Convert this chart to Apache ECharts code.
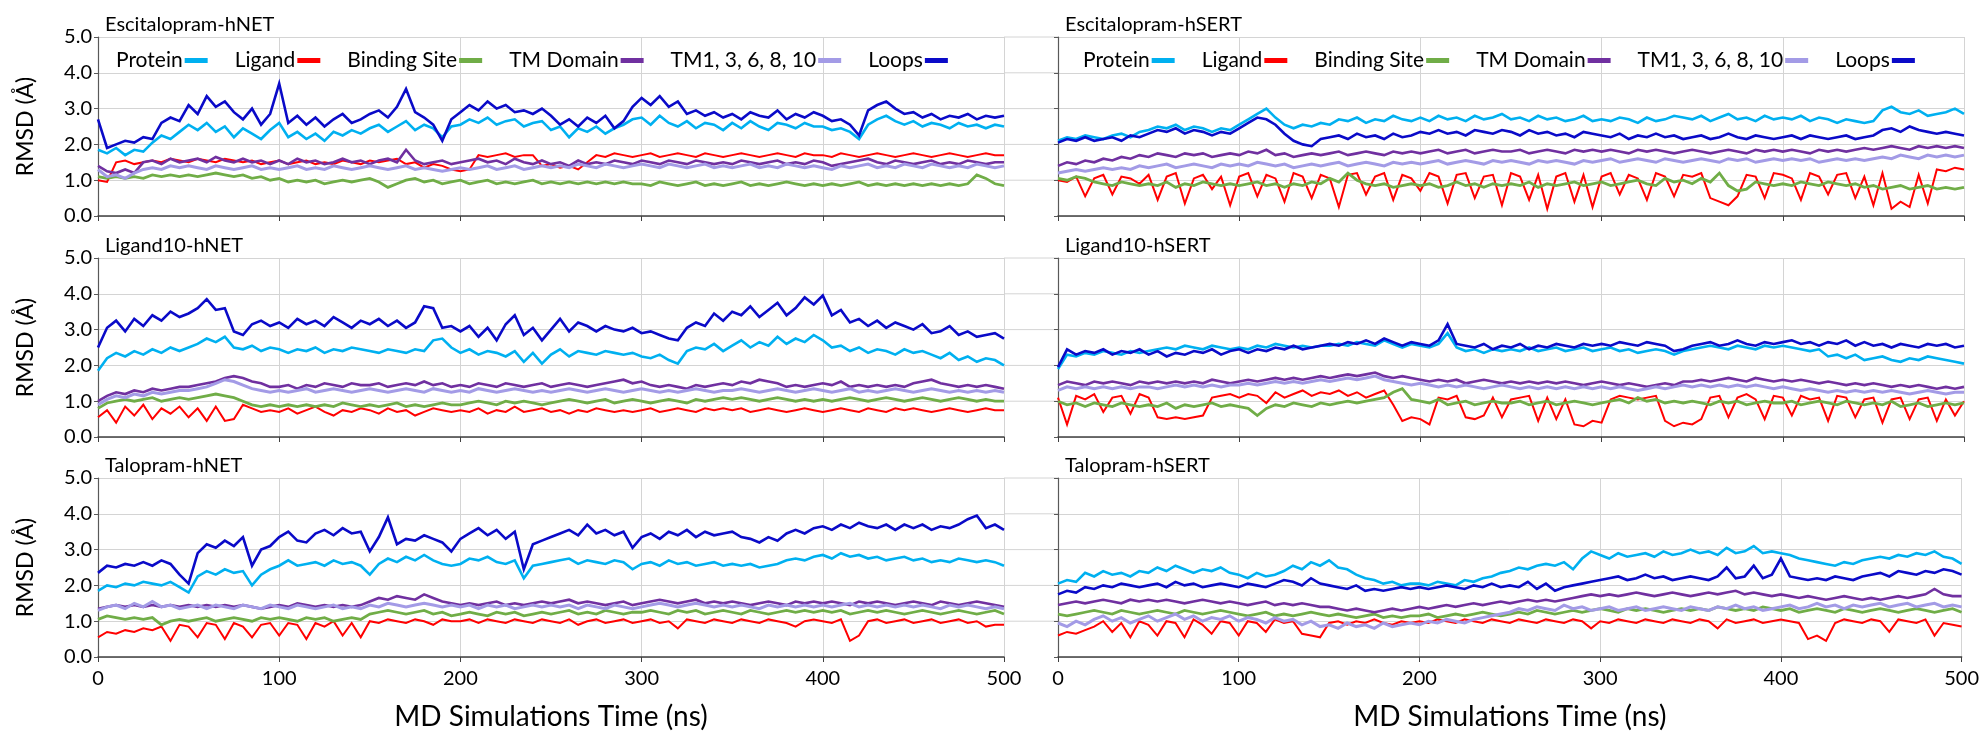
<!DOCTYPE html>
<html>
<head>
<meta charset="utf-8">
<script src="https://cdn.jsdelivr.net/npm/echarts@6/dist/echarts.min.js"></script>
<style>
  html, body { margin: 0; padding: 0; background: #fff; }
  #chart { width: 1982px; height: 734px; }
</style>
</head>
<body>
<div id="chart"></div>
<script>
// time grid (ns), one sample every 5 ns
const TIME_NS = [0,5,10,15,20,25,30,35,40,45,50,55,60,65,70,75,80,85,90,95,
  100,105,110,115,120,125,130,135,140,145,150,155,160,165,170,175,180,185,190,195,
  200,205,210,215,220,225,230,235,240,245,250,255,260,265,270,275,280,285,290,295,
  300,305,310,315,320,325,330,335,340,345,350,355,360,365,370,375,380,385,390,395,
  400,405,410,415,420,425,430,435,440,445,450,455,460,465,470,475,480,485,490,495,500];

const SERIES_NAMES = ['Protein', 'Ligand', 'Binding Site', 'TM Domain', 'TM1, 3, 6, 8, 10', 'Loops'];
const PANEL_TITLES = ['Escitalopram-hNET', 'Escitalopram-hSERT', 'Ligand10-hNET', 'Ligand10-hSERT', 'Talopram-hNET', 'Talopram-hSERT'];
const X_TICKS = [0, 100, 200, 300, 400, 500];
const Y_TICKS = [0, 1, 2, 3, 4, 5];

// ---- Escitalopram-hNET ----
const ESC_NET_PROTEIN = [1.85,1.75,1.90,1.70,1.85,1.80,2.05,2.25,2.15,2.35,
  2.55,2.40,2.60,2.35,2.50,2.20,2.45,2.30,2.15,2.40,
  2.60,2.20,2.35,2.15,2.30,2.10,2.35,2.25,2.40,2.30,
  2.45,2.55,2.35,2.50,2.65,2.40,2.55,2.45,2.20,2.50,
  2.55,2.70,2.60,2.75,2.55,2.65,2.70,2.50,2.60,2.65,
  2.40,2.50,2.20,2.45,2.35,2.50,2.30,2.45,2.55,2.70,
  2.75,2.55,2.80,2.60,2.50,2.65,2.45,2.60,2.55,2.40,
  2.60,2.45,2.65,2.50,2.40,2.60,2.55,2.45,2.60,2.50,
  2.50,2.40,2.45,2.35,2.15,2.55,2.70,2.80,2.65,2.55,
  2.65,2.50,2.60,2.55,2.45,2.60,2.50,2.55,2.45,2.55,2.50];
const ESC_NET_LIGAND = [1.00,0.95,1.50,1.55,1.45,1.50,1.55,1.50,1.60,1.55,
  1.50,1.60,1.55,1.50,1.60,1.55,1.50,1.55,1.45,1.50,
  1.55,1.45,1.50,1.55,1.45,1.50,1.45,1.55,1.50,1.45,
  1.55,1.50,1.55,1.60,1.45,1.50,1.35,1.45,1.40,1.30,
  1.25,1.30,1.70,1.65,1.70,1.75,1.65,1.70,1.70,1.40,
  1.45,1.35,1.40,1.30,1.50,1.70,1.65,1.75,1.70,1.65,
  1.70,1.75,1.65,1.70,1.75,1.70,1.65,1.75,1.70,1.65,
  1.70,1.75,1.70,1.65,1.70,1.75,1.70,1.65,1.75,1.70,
  1.70,1.65,1.75,1.70,1.65,1.70,1.75,1.70,1.65,1.70,
  1.75,1.70,1.65,1.70,1.75,1.70,1.65,1.70,1.75,1.70,1.70];
const ESC_NET_SITE = [1.10,1.05,1.10,1.05,1.10,1.05,1.15,1.10,1.15,1.10,
  1.15,1.10,1.15,1.20,1.15,1.10,1.15,1.05,1.10,1.00,
  1.05,0.95,1.00,0.95,1.00,0.90,0.95,1.00,0.95,1.00,
  1.05,0.95,0.80,0.90,1.00,1.05,0.95,1.00,0.90,0.95,
  1.00,0.90,0.95,1.00,0.90,0.95,0.90,0.95,1.00,0.90,
  0.95,0.90,0.95,0.90,0.95,0.90,0.95,0.90,0.95,0.90,
  0.90,0.85,0.95,0.90,0.85,0.90,0.95,0.85,0.90,0.85,
  0.90,0.95,0.85,0.90,0.85,0.90,0.95,0.90,0.85,0.90,
  0.85,0.90,0.85,0.90,0.95,0.85,0.90,0.85,0.90,0.85,
  0.90,0.85,0.90,0.85,0.90,0.85,0.90,1.15,1.05,0.90,0.85];
const ESC_NET_TMD = [1.40,1.25,1.20,1.30,1.20,1.50,1.55,1.45,1.60,1.50,
  1.55,1.60,1.50,1.65,1.55,1.50,1.60,1.50,1.55,1.45,
  1.55,1.45,1.60,1.50,1.55,1.45,1.50,1.60,1.50,1.55,
  1.45,1.55,1.60,1.50,1.85,1.55,1.45,1.50,1.55,1.45,
  1.50,1.55,1.60,1.50,1.55,1.45,1.60,1.50,1.45,1.55,
  1.45,1.50,1.40,1.55,1.45,1.50,1.45,1.55,1.50,1.45,
  1.55,1.50,1.45,1.55,1.50,1.45,1.55,1.50,1.45,1.50,
  1.45,1.55,1.50,1.45,1.50,1.55,1.45,1.50,1.45,1.55,
  1.50,1.40,1.45,1.50,1.55,1.60,1.50,1.45,1.55,1.50,
  1.45,1.50,1.55,1.45,1.50,1.45,1.55,1.50,1.45,1.50,1.50];
const ESC_NET_TM1 = [1.30,1.10,1.15,1.05,1.20,1.30,1.35,1.30,1.40,1.35,
  1.40,1.35,1.30,1.40,1.35,1.30,1.35,1.40,1.30,1.35,
  1.30,1.35,1.40,1.30,1.35,1.30,1.40,1.35,1.30,1.35,
  1.40,1.35,1.30,1.35,1.40,1.30,1.35,1.30,1.25,1.30,
  1.35,1.30,1.35,1.40,1.30,1.35,1.40,1.30,1.35,1.40,
  1.35,1.40,1.35,1.45,1.40,1.35,1.45,1.40,1.35,1.40,
  1.45,1.40,1.35,1.45,1.40,1.35,1.40,1.45,1.35,1.40,
  1.35,1.40,1.45,1.35,1.40,1.35,1.45,1.40,1.35,1.40,
  1.35,1.30,1.40,1.35,1.40,1.45,1.35,1.40,1.35,1.45,
  1.40,1.35,1.45,1.40,1.35,1.40,1.35,1.45,1.40,1.35,1.40];
const ESC_NET_LOOPS = [2.70,1.90,2.00,2.10,2.05,2.20,2.15,2.60,2.75,2.65,
  3.10,2.85,3.35,3.05,3.20,2.90,2.70,3.00,2.55,2.85,
  3.70,2.60,2.80,2.55,2.75,2.50,2.70,2.85,2.60,2.70,
  2.85,2.95,2.75,3.05,3.55,2.90,2.75,2.55,2.10,2.70,
  2.90,3.10,2.95,3.20,3.00,3.10,2.90,2.95,2.85,3.00,
  2.80,2.55,2.70,2.50,2.75,2.60,2.80,2.45,2.65,3.05,
  3.30,3.10,3.35,3.05,3.20,2.85,2.95,2.80,2.90,2.75,
  2.85,2.70,2.90,2.80,2.75,2.95,2.70,2.85,2.75,2.90,
  2.80,2.65,2.70,2.55,2.25,2.95,3.10,3.20,3.00,2.85,
  2.90,2.75,2.85,2.70,2.80,2.75,2.85,2.70,2.80,2.75,2.80];

// ---- Escitalopram-hSERT ----
const ESC_SERT_PROTEIN = [2.10,2.20,2.15,2.25,2.20,2.15,2.25,2.30,2.20,2.35,
  2.40,2.50,2.45,2.55,2.40,2.50,2.45,2.35,2.45,2.40,
  2.55,2.70,2.85,3.00,2.75,2.55,2.45,2.55,2.50,2.60,
  2.55,2.70,2.65,2.75,2.60,2.70,2.65,2.80,2.70,2.65,
  2.75,2.65,2.80,2.70,2.75,2.65,2.80,2.70,2.75,2.85,
  2.70,2.75,2.65,2.80,2.70,2.75,2.65,2.70,2.80,2.65,
  2.70,2.65,2.75,2.70,2.60,2.75,2.65,2.70,2.80,2.75,
  2.70,2.80,2.65,2.75,2.85,2.70,2.75,2.65,2.80,2.70,
  2.75,2.70,2.80,2.65,2.75,2.70,2.60,2.70,2.65,2.60,
  2.65,2.95,3.05,2.90,2.85,2.95,2.80,2.85,2.90,3.00,2.85];
const ESC_SERT_LIGAND = [1.00,0.95,1.10,0.55,1.05,1.15,0.60,1.10,1.05,0.90,
  1.15,0.45,1.10,1.20,0.35,1.05,1.15,0.75,1.10,0.30,
  1.10,1.20,0.55,1.15,1.05,0.40,1.20,1.10,0.50,1.15,
  1.05,0.25,1.15,1.20,0.60,1.10,1.20,0.45,1.15,1.05,
  0.70,1.20,1.10,0.35,1.15,1.20,0.50,1.10,1.15,0.30,
  1.20,1.10,0.45,1.15,0.20,1.10,1.20,0.40,1.15,0.25,
  1.10,1.20,0.60,1.15,1.05,0.45,1.20,1.10,0.55,1.15,
  1.10,1.20,0.50,0.40,0.30,0.55,1.15,1.10,0.50,1.20,
  1.15,1.05,0.45,1.20,1.10,0.60,1.15,1.20,0.50,1.10,
  0.30,1.20,0.20,0.40,0.25,1.15,0.35,1.30,1.25,1.35,1.30];
const ESC_SERT_SITE = [1.05,1.00,1.10,1.05,0.95,0.90,0.85,0.95,0.90,0.85,
  0.90,0.85,0.95,0.80,0.90,0.85,0.95,0.90,0.85,0.90,
  0.85,0.90,0.95,0.85,0.90,0.80,0.90,0.85,0.95,0.90,
  1.05,0.95,1.20,1.00,0.90,0.85,0.90,0.80,0.85,0.90,
  0.85,0.90,0.80,0.85,0.95,0.85,0.90,0.80,0.90,0.85,
  0.90,0.85,0.95,0.80,0.90,0.85,0.90,0.95,0.85,0.90,
  0.95,0.85,0.90,0.95,1.00,0.90,0.85,1.05,0.95,1.00,
  0.90,1.05,0.95,1.20,0.85,0.70,0.75,0.95,0.90,0.85,
  0.90,0.85,0.95,0.90,0.85,0.95,0.90,0.85,0.90,0.80,
  0.85,0.75,0.80,0.85,0.75,0.80,0.85,0.75,0.80,0.75,0.80];
const ESC_SERT_TMD = [1.40,1.50,1.45,1.55,1.50,1.60,1.55,1.65,1.60,1.70,
  1.65,1.75,1.70,1.65,1.75,1.70,1.75,1.65,1.70,1.75,
  1.70,1.80,1.75,1.85,1.70,1.75,1.65,1.70,1.75,1.70,
  1.75,1.80,1.70,1.75,1.80,1.75,1.70,1.80,1.75,1.80,
  1.75,1.80,1.85,1.75,1.80,1.85,1.75,1.80,1.85,1.80,
  1.80,1.85,1.75,1.80,1.85,1.80,1.75,1.85,1.80,1.85,
  1.80,1.85,1.80,1.75,1.85,1.80,1.85,1.80,1.75,1.80,
  1.85,1.80,1.75,1.80,1.85,1.80,1.75,1.85,1.80,1.85,
  1.80,1.85,1.80,1.75,1.85,1.80,1.85,1.80,1.85,1.90,
  1.85,1.90,1.95,1.90,1.85,1.95,1.90,1.95,1.90,1.95,1.90];
const ESC_SERT_TM1 = [1.20,1.25,1.30,1.25,1.30,1.35,1.30,1.35,1.30,1.40,
  1.35,1.40,1.45,1.35,1.40,1.45,1.40,1.35,1.45,1.40,
  1.45,1.40,1.50,1.45,1.40,1.45,1.35,1.40,1.45,1.40,
  1.45,1.50,1.40,1.45,1.50,1.45,1.40,1.50,1.45,1.50,
  1.45,1.50,1.55,1.45,1.50,1.55,1.50,1.45,1.55,1.50,
  1.55,1.50,1.45,1.55,1.50,1.55,1.50,1.45,1.55,1.50,
  1.55,1.60,1.50,1.55,1.60,1.55,1.50,1.60,1.55,1.50,
  1.55,1.60,1.55,1.50,1.60,1.55,1.60,1.50,1.55,1.60,
  1.55,1.60,1.55,1.60,1.50,1.55,1.60,1.55,1.60,1.55,
  1.60,1.65,1.60,1.70,1.65,1.60,1.70,1.65,1.70,1.65,1.70];
const ESC_SERT_LOOPS = [2.05,2.15,2.10,2.20,2.10,2.15,2.20,2.10,2.25,2.20,
  2.30,2.40,2.35,2.45,2.30,2.40,2.35,2.25,2.35,2.30,
  2.45,2.60,2.75,2.70,2.55,2.30,2.10,2.00,1.95,2.15,
  2.20,2.25,2.15,2.30,2.20,2.25,2.15,2.30,2.20,2.25,
  2.35,2.30,2.40,2.30,2.35,2.25,2.40,2.35,2.30,2.40,
  2.35,2.25,2.40,2.30,2.35,2.25,2.30,2.20,2.35,2.30,
  2.25,2.20,2.30,2.15,2.25,2.20,2.30,2.20,2.25,2.15,
  2.20,2.25,2.15,2.20,2.30,2.20,2.15,2.25,2.20,2.15,
  2.20,2.25,2.15,2.25,2.20,2.15,2.20,2.25,2.15,2.20,
  2.25,2.40,2.45,2.35,2.50,2.40,2.35,2.30,2.35,2.30,2.25];

// ---- Ligand10-hNET ----
const L10_NET_PROTEIN = [1.85,2.20,2.35,2.25,2.40,2.30,2.45,2.35,2.50,2.40,
  2.50,2.60,2.75,2.65,2.80,2.50,2.45,2.55,2.40,2.50,
  2.45,2.35,2.45,2.40,2.50,2.35,2.45,2.40,2.50,2.45,
  2.40,2.35,2.45,2.40,2.35,2.45,2.40,2.70,2.75,2.50,
  2.35,2.45,2.30,2.40,2.35,2.25,2.40,2.10,2.35,2.05,
  2.30,2.45,2.25,2.40,2.35,2.30,2.40,2.35,2.30,2.35,
  2.25,2.20,2.30,2.15,2.05,2.40,2.50,2.45,2.60,2.40,
  2.55,2.70,2.50,2.65,2.55,2.80,2.60,2.75,2.65,2.85,
  2.70,2.50,2.55,2.40,2.50,2.35,2.45,2.40,2.30,2.45,
  2.35,2.40,2.30,2.20,2.35,2.15,2.25,2.10,2.20,2.15,2.00];
const L10_NET_LIGAND = [0.55,0.75,0.40,0.85,0.60,0.90,0.50,0.80,0.65,0.85,
  0.55,0.80,0.45,0.85,0.45,0.50,0.90,0.80,0.70,0.75,
  0.70,0.80,0.65,0.75,0.85,0.70,0.60,0.75,0.70,0.80,
  0.75,0.65,0.80,0.70,0.75,0.60,0.70,0.80,0.75,0.70,
  0.75,0.70,0.80,0.65,0.75,0.70,0.85,0.70,0.75,0.80,
  0.70,0.75,0.65,0.75,0.70,0.80,0.75,0.70,0.75,0.70,
  0.75,0.80,0.70,0.75,0.80,0.75,0.70,0.80,0.75,0.80,
  0.75,0.80,0.70,0.75,0.80,0.75,0.70,0.75,0.80,0.75,
  0.70,0.75,0.80,0.75,0.70,0.80,0.75,0.70,0.80,0.75,
  0.80,0.75,0.70,0.75,0.80,0.75,0.70,0.75,0.80,0.75,0.75];
const L10_NET_SITE = [0.80,0.95,1.00,1.05,1.00,1.05,1.10,1.00,1.05,1.10,
  1.05,1.10,1.15,1.20,1.15,1.10,1.00,0.90,0.85,0.90,
  0.85,0.90,0.85,0.90,0.85,0.90,0.85,0.95,0.90,0.85,
  0.90,0.85,0.90,0.95,0.85,0.90,0.85,0.90,0.95,0.90,
  0.90,0.95,1.00,0.95,0.90,1.00,0.95,1.00,0.95,0.90,
  0.95,1.00,1.05,1.00,0.95,1.00,1.05,0.95,1.00,1.05,
  1.00,0.95,1.00,1.05,1.00,0.95,1.05,1.00,1.05,1.10,
  1.05,1.10,1.05,1.00,1.05,1.10,1.05,1.00,1.05,1.00,
  1.05,1.00,1.05,1.10,1.05,1.00,1.05,1.10,1.05,1.00,
  1.05,1.10,1.05,1.00,1.05,1.10,1.05,1.00,1.05,1.00,1.00];
const L10_NET_TMD = [1.00,1.15,1.25,1.20,1.30,1.25,1.35,1.30,1.35,1.40,
  1.40,1.45,1.50,1.55,1.65,1.70,1.65,1.55,1.50,1.40,
  1.40,1.45,1.35,1.45,1.40,1.50,1.45,1.40,1.50,1.45,
  1.45,1.50,1.40,1.45,1.50,1.45,1.55,1.45,1.50,1.40,
  1.45,1.40,1.50,1.45,1.40,1.50,1.45,1.40,1.45,1.50,
  1.40,1.45,1.50,1.45,1.40,1.45,1.50,1.55,1.60,1.50,
  1.55,1.45,1.40,1.45,1.40,1.35,1.45,1.40,1.45,1.50,
  1.45,1.55,1.50,1.60,1.55,1.50,1.40,1.45,1.40,1.45,
  1.50,1.45,1.55,1.40,1.45,1.40,1.45,1.40,1.45,1.40,
  1.50,1.55,1.60,1.50,1.45,1.40,1.45,1.40,1.45,1.40,1.35];
const L10_NET_TM1 = [0.90,1.05,1.15,1.10,1.20,1.15,1.25,1.20,1.25,1.30,
  1.30,1.35,1.40,1.50,1.60,1.55,1.45,1.35,1.30,1.25,
  1.30,1.25,1.30,1.35,1.25,1.30,1.35,1.30,1.25,1.30,
  1.35,1.30,1.25,1.30,1.35,1.30,1.25,1.35,1.30,1.25,
  1.30,1.25,1.35,1.30,1.25,1.30,1.35,1.30,1.25,1.30,
  1.25,1.30,1.35,1.30,1.25,1.30,1.35,1.30,1.25,1.30,
  1.35,1.30,1.25,1.30,1.25,1.30,1.35,1.30,1.25,1.30,
  1.30,1.35,1.30,1.25,1.30,1.35,1.30,1.25,1.30,1.35,
  1.30,1.25,1.30,1.35,1.25,1.30,1.25,1.30,1.35,1.30,
  1.25,1.30,1.35,1.30,1.25,1.30,1.25,1.30,1.25,1.30,1.25];
const L10_NET_LOOPS = [2.50,3.05,3.25,2.95,3.30,3.10,3.40,3.25,3.50,3.35,
  3.45,3.60,3.85,3.55,3.60,2.95,2.85,3.15,3.25,3.10,
  3.20,3.05,3.30,3.15,3.25,3.10,3.35,3.20,3.05,3.25,
  3.15,3.30,3.10,3.25,3.05,3.20,3.65,3.60,3.05,3.10,
  2.95,3.10,2.80,3.05,2.70,3.15,3.40,2.85,3.05,2.70,
  3.00,3.30,2.95,3.20,3.10,2.95,3.10,3.00,2.95,3.05,
  2.90,2.95,2.85,2.75,2.70,3.05,3.20,3.10,3.45,3.25,
  3.50,3.40,3.65,3.35,3.55,3.75,3.40,3.60,3.90,3.70,
  3.95,3.40,3.55,3.20,3.30,3.10,3.25,3.05,3.20,3.10,
  3.00,3.15,2.90,2.95,3.10,2.85,2.95,2.80,2.85,2.90,2.75];

// ---- Ligand10-hSERT ----
const L10_SERT_PROTEIN = [1.90,2.30,2.25,2.35,2.30,2.40,2.35,2.30,2.40,2.35,
  2.40,2.45,2.50,2.45,2.55,2.50,2.45,2.55,2.50,2.45,
  2.50,2.45,2.55,2.50,2.60,2.55,2.50,2.55,2.50,2.55,
  2.55,2.60,2.55,2.65,2.60,2.55,2.70,2.60,2.50,2.60,
  2.55,2.50,2.60,2.90,2.50,2.40,2.45,2.35,2.45,2.40,
  2.45,2.40,2.50,2.40,2.45,2.50,2.40,2.45,2.50,2.40,
  2.45,2.50,2.40,2.45,2.35,2.40,2.45,2.40,2.30,2.40,
  2.45,2.50,2.55,2.50,2.45,2.55,2.50,2.45,2.55,2.50,
  2.55,2.50,2.45,2.40,2.45,2.25,2.30,2.20,2.30,2.15,
  2.20,2.25,2.15,2.10,2.20,2.15,2.25,2.20,2.15,2.10,2.05];
const L10_SERT_LIGAND = [1.10,0.35,1.15,1.05,1.20,0.70,1.10,1.15,0.65,1.20,
  1.10,0.55,0.50,0.55,0.50,0.55,0.60,1.10,1.15,1.20,
  1.10,1.20,1.15,0.95,1.25,1.10,1.20,1.30,1.15,1.25,
  1.20,1.30,1.15,1.25,1.10,1.20,1.30,0.90,0.45,0.55,
  0.50,0.35,1.10,1.05,1.15,0.55,0.50,0.60,1.10,0.55,
  1.05,1.10,1.15,0.45,1.10,0.50,1.05,0.35,0.30,0.45,
  0.40,1.05,1.15,1.10,1.05,1.10,1.15,0.45,0.30,0.40,
  0.35,0.50,1.10,1.15,0.55,1.10,1.20,1.05,0.50,1.15,
  1.10,0.60,1.15,1.05,1.10,0.45,1.15,1.10,0.55,1.05,
  1.10,0.40,1.05,1.10,0.50,1.05,1.10,0.45,1.05,0.60,1.00];
const L10_SERT_SITE = [1.00,0.90,0.95,0.85,0.95,0.90,0.85,0.95,0.90,0.85,
  0.90,0.85,0.95,0.80,0.90,0.85,0.90,0.95,0.85,0.90,
  0.85,0.80,0.60,0.80,0.90,0.85,0.95,0.90,0.85,0.95,
  0.90,0.95,1.00,0.95,1.00,1.05,1.10,1.25,1.35,1.05,
  1.00,0.95,1.05,0.90,0.95,1.00,0.90,0.95,1.00,0.95,
  0.95,1.00,0.90,0.95,1.00,0.90,0.95,1.00,0.95,0.90,
  0.95,1.00,1.05,0.95,1.10,1.00,1.05,0.95,1.00,0.95,
  1.00,0.95,0.90,1.00,0.95,1.00,0.90,0.95,1.00,0.95,
  0.95,1.00,0.90,0.95,1.00,0.95,0.90,1.00,0.95,0.90,
  0.95,0.90,1.00,0.85,0.90,0.95,0.85,0.90,0.95,0.90,0.95];
const L10_SERT_TMD = [1.45,1.55,1.50,1.45,1.55,1.50,1.55,1.50,1.45,1.55,
  1.50,1.55,1.50,1.55,1.50,1.55,1.50,1.60,1.55,1.50,
  1.55,1.60,1.55,1.60,1.65,1.60,1.65,1.60,1.65,1.70,
  1.65,1.70,1.75,1.70,1.75,1.80,1.70,1.65,1.70,1.65,
  1.60,1.55,1.60,1.55,1.60,1.50,1.55,1.60,1.55,1.50,
  1.55,1.50,1.55,1.50,1.55,1.50,1.55,1.50,1.45,1.50,
  1.55,1.50,1.45,1.50,1.45,1.40,1.45,1.50,1.45,1.55,
  1.55,1.60,1.55,1.60,1.65,1.60,1.55,1.65,1.60,1.55,
  1.60,1.55,1.60,1.55,1.50,1.55,1.50,1.45,1.50,1.45,
  1.50,1.45,1.40,1.45,1.40,1.45,1.40,1.35,1.40,1.35,1.40];
const L10_SERT_TM1 = [1.30,1.40,1.35,1.40,1.35,1.40,1.35,1.40,1.35,1.40,
  1.40,1.35,1.40,1.45,1.40,1.45,1.40,1.45,1.40,1.45,
  1.45,1.50,1.45,1.50,1.55,1.50,1.55,1.50,1.55,1.60,
  1.55,1.60,1.65,1.60,1.65,1.70,1.60,1.55,1.50,1.45,
  1.50,1.45,1.40,1.45,1.40,1.45,1.40,1.35,1.40,1.45,
  1.40,1.35,1.40,1.35,1.40,1.35,1.40,1.35,1.40,1.35,
  1.40,1.35,1.40,1.35,1.30,1.35,1.40,1.35,1.40,1.45,
  1.40,1.45,1.40,1.45,1.40,1.45,1.40,1.45,1.40,1.35,
  1.40,1.35,1.30,1.35,1.30,1.25,1.30,1.25,1.30,1.25,
  1.30,1.25,1.30,1.25,1.20,1.25,1.30,1.25,1.20,1.25,1.25];
const L10_SERT_LOOPS = [1.95,2.45,2.30,2.40,2.35,2.45,2.30,2.40,2.35,2.45,
  2.30,2.40,2.25,2.35,2.30,2.40,2.35,2.45,2.30,2.40,
  2.45,2.35,2.45,2.40,2.50,2.45,2.55,2.45,2.50,2.55,
  2.60,2.55,2.65,2.60,2.70,2.60,2.75,2.65,2.55,2.65,
  2.60,2.55,2.70,3.15,2.60,2.55,2.50,2.60,2.45,2.55,
  2.50,2.60,2.45,2.55,2.50,2.60,2.55,2.50,2.60,2.55,
  2.60,2.55,2.65,2.60,2.55,2.65,2.60,2.55,2.40,2.45,
  2.55,2.60,2.65,2.55,2.60,2.70,2.60,2.55,2.65,2.60,
  2.65,2.70,2.60,2.65,2.55,2.65,2.60,2.70,2.55,2.65,
  2.55,2.60,2.50,2.60,2.55,2.50,2.60,2.55,2.60,2.50,2.55];

// ---- Talopram-hNET ----
const TAL_NET_PROTEIN = [1.85,2.00,1.95,2.05,2.00,2.10,2.05,2.00,2.10,1.95,
  1.80,2.25,2.40,2.30,2.45,2.35,2.40,2.00,2.30,2.45,
  2.55,2.70,2.55,2.60,2.65,2.55,2.70,2.60,2.65,2.55,
  2.30,2.60,2.75,2.65,2.80,2.70,2.85,2.70,2.60,2.55,
  2.60,2.75,2.70,2.80,2.65,2.60,2.70,2.20,2.55,2.60,
  2.65,2.70,2.75,2.60,2.70,2.65,2.60,2.70,2.65,2.45,
  2.60,2.65,2.55,2.70,2.60,2.65,2.55,2.60,2.65,2.55,
  2.60,2.55,2.60,2.50,2.55,2.60,2.70,2.75,2.70,2.80,
  2.85,2.75,2.90,2.80,2.85,2.75,2.80,2.70,2.75,2.80,
  2.70,2.75,2.65,2.70,2.65,2.75,2.70,2.65,2.70,2.65,2.55];
const TAL_NET_LIGAND = [0.55,0.70,0.65,0.75,0.70,0.80,0.75,0.85,0.45,0.90,
  0.85,0.55,0.95,0.90,0.50,0.95,0.85,0.55,0.90,0.95,
  0.60,0.95,0.90,0.50,0.95,0.85,1.00,0.60,0.95,0.55,
  1.00,0.95,1.05,1.00,0.95,1.05,1.00,0.90,1.05,1.00,
  1.00,1.05,0.95,1.05,1.00,0.95,1.05,1.00,0.95,1.05,
  1.00,0.95,1.05,0.90,1.00,1.05,0.95,1.00,1.05,0.95,
  1.00,1.05,0.95,1.00,0.80,1.05,1.00,0.95,1.05,1.00,
  0.95,1.05,1.00,0.95,1.05,1.00,0.95,0.85,1.00,1.05,
  1.00,0.95,1.05,0.45,0.60,1.00,1.05,0.95,1.00,1.05,
  0.95,1.00,1.05,0.95,1.00,1.05,0.95,1.00,0.85,0.90,0.90];
const TAL_NET_SITE = [1.05,1.15,1.10,1.05,1.10,1.05,1.10,0.90,1.00,1.05,
  1.00,1.05,1.10,1.00,1.05,1.10,1.05,1.00,1.10,1.05,
  1.10,1.05,1.00,1.10,1.05,1.10,1.00,1.05,1.10,1.05,
  1.20,1.25,1.30,1.25,1.20,1.25,1.30,1.20,1.25,1.15,
  1.20,1.25,1.20,1.15,1.25,1.20,1.25,1.15,1.20,1.25,
  1.20,1.25,1.30,1.20,1.25,1.20,1.30,1.25,1.20,1.25,
  1.25,1.30,1.25,1.20,1.30,1.25,1.30,1.20,1.25,1.30,
  1.25,1.20,1.30,1.25,1.20,1.25,1.30,1.25,1.30,1.25,
  1.30,1.25,1.30,1.20,1.25,1.30,1.25,1.30,1.25,1.20,
  1.25,1.30,1.25,1.20,1.25,1.30,1.25,1.20,1.25,1.30,1.20];
const TAL_NET_TMD = [1.35,1.40,1.45,1.40,1.45,1.40,1.45,1.40,1.45,1.40,
  1.45,1.40,1.45,1.40,1.45,1.40,1.45,1.40,1.35,1.40,
  1.45,1.40,1.50,1.45,1.40,1.45,1.40,1.45,1.40,1.45,
  1.55,1.65,1.60,1.70,1.65,1.60,1.75,1.65,1.55,1.50,
  1.45,1.50,1.45,1.50,1.55,1.45,1.50,1.45,1.50,1.55,
  1.50,1.55,1.60,1.50,1.55,1.50,1.45,1.50,1.55,1.45,
  1.50,1.55,1.60,1.55,1.50,1.55,1.60,1.50,1.55,1.50,
  1.55,1.50,1.45,1.50,1.55,1.50,1.45,1.55,1.50,1.55,
  1.50,1.55,1.50,1.45,1.55,1.50,1.55,1.50,1.45,1.50,
  1.55,1.50,1.45,1.55,1.50,1.45,1.50,1.55,1.50,1.45,1.40];
const TAL_NET_TM1 = [1.30,1.40,1.45,1.35,1.50,1.40,1.55,1.40,1.45,1.35,
  1.40,1.45,1.35,1.45,1.40,1.35,1.45,1.40,1.35,1.45,
  1.40,1.35,1.45,1.40,1.35,1.40,1.45,1.35,1.40,1.35,
  1.45,1.40,1.50,1.45,1.40,1.45,1.50,1.45,1.40,1.45,
  1.40,1.45,1.35,1.45,1.40,1.45,1.35,1.40,1.45,1.40,
  1.45,1.40,1.45,1.35,1.45,1.40,1.35,1.45,1.40,1.35,
  1.40,1.45,1.50,1.45,1.40,1.45,1.50,1.45,1.40,1.45,
  1.40,1.45,1.40,1.35,1.45,1.40,1.45,1.40,1.45,1.40,
  1.45,1.40,1.45,1.50,1.40,1.45,1.40,1.45,1.40,1.45,
  1.40,1.45,1.40,1.35,1.45,1.40,1.45,1.40,1.35,1.40,1.35];
const TAL_NET_LOOPS = [2.35,2.55,2.50,2.60,2.55,2.65,2.55,2.70,2.60,2.30,
  2.05,2.90,3.15,3.05,3.25,3.10,3.35,2.55,3.00,3.10,
  3.35,3.50,3.25,3.20,3.45,3.55,3.40,3.60,3.45,3.50,
  2.95,3.35,3.90,3.15,3.30,3.25,3.40,3.30,3.20,2.95,
  3.30,3.45,3.60,3.40,3.55,3.30,3.50,2.45,3.15,3.25,
  3.35,3.45,3.55,3.40,3.70,3.45,3.55,3.40,3.50,3.05,
  3.35,3.45,3.30,3.50,3.40,3.55,3.35,3.50,3.40,3.45,
  3.50,3.35,3.30,3.20,3.35,3.25,3.45,3.55,3.45,3.60,
  3.65,3.55,3.70,3.60,3.75,3.65,3.60,3.70,3.55,3.70,
  3.60,3.70,3.55,3.65,3.60,3.70,3.85,3.95,3.60,3.70,3.55];

// ---- Talopram-hSERT ----
const TAL_SERT_PROTEIN = [2.05,2.15,2.10,2.35,2.25,2.40,2.30,2.35,2.25,2.40,
  2.35,2.50,2.40,2.55,2.45,2.35,2.45,2.40,2.50,2.35,
  2.30,2.20,2.35,2.25,2.30,2.40,2.55,2.45,2.65,2.55,
  2.70,2.50,2.45,2.30,2.20,2.15,2.05,2.10,2.00,2.05,
  2.05,2.00,2.10,2.05,2.00,2.15,2.10,2.20,2.25,2.35,
  2.40,2.50,2.45,2.55,2.60,2.55,2.65,2.45,2.75,2.95,
  2.85,2.75,2.90,2.80,2.85,2.90,2.80,2.95,2.85,2.90,
  3.00,2.90,2.95,2.85,3.05,2.90,2.95,3.10,2.90,2.95,
  2.90,2.85,2.75,2.70,2.65,2.60,2.55,2.65,2.60,2.70,
  2.75,2.80,2.75,2.85,2.80,2.90,2.85,2.95,2.80,2.75,2.60];
const TAL_SERT_LIGAND = [0.60,0.70,0.65,0.75,0.85,1.00,0.70,0.95,0.55,1.00,
  0.90,0.60,1.00,0.95,0.55,1.05,0.90,0.65,1.00,0.95,
  0.60,1.00,0.95,0.70,1.05,0.95,1.00,0.65,0.60,0.55,
  0.95,1.00,0.90,1.00,0.95,1.05,0.95,0.90,1.00,0.95,
  1.00,0.95,1.05,1.00,0.95,1.05,1.00,0.95,1.05,1.00,
  0.95,1.05,1.00,0.95,1.05,1.00,0.95,1.05,1.00,0.80,
  1.00,0.95,1.05,1.00,0.95,1.05,1.00,0.95,1.05,1.00,
  0.95,1.05,1.00,0.80,1.05,0.95,1.00,1.05,0.95,1.00,
  1.05,1.00,0.95,0.50,0.60,0.45,0.95,1.05,1.00,0.95,
  1.05,1.00,0.70,1.05,1.00,0.95,1.05,0.60,0.95,0.90,0.85];
const TAL_SERT_SITE = [1.20,1.15,1.20,1.25,1.30,1.25,1.20,1.30,1.25,1.20,
  1.25,1.30,1.25,1.20,1.30,1.25,1.20,1.25,1.30,1.25,
  1.20,1.15,1.20,1.25,1.15,1.20,1.15,1.20,1.25,1.20,
  1.15,1.20,1.15,1.10,1.15,1.20,1.10,1.15,1.10,1.15,
  1.15,1.20,1.10,1.15,1.20,1.15,1.20,1.25,1.20,1.15,
  1.20,1.25,1.20,1.30,1.25,1.20,1.25,1.30,1.25,1.30,
  1.35,1.30,1.25,1.35,1.30,1.35,1.30,1.25,1.30,1.35,
  1.30,1.35,1.30,1.40,1.35,1.30,1.35,1.30,1.40,1.35,
  1.30,1.35,1.25,1.30,1.35,1.30,1.25,1.35,1.30,1.25,
  1.30,1.35,1.30,1.25,1.30,1.35,1.30,1.25,1.30,1.35,1.25];
const TAL_SERT_TMD = [1.45,1.50,1.55,1.50,1.55,1.60,1.55,1.50,1.60,1.55,
  1.60,1.55,1.60,1.55,1.50,1.55,1.60,1.55,1.50,1.55,
  1.50,1.45,1.50,1.55,1.45,1.50,1.45,1.50,1.45,1.40,
  1.40,1.35,1.30,1.35,1.30,1.25,1.30,1.35,1.30,1.35,
  1.40,1.35,1.40,1.45,1.40,1.45,1.50,1.45,1.50,1.55,
  1.50,1.55,1.60,1.55,1.60,1.55,1.60,1.65,1.70,1.75,
  1.70,1.75,1.70,1.75,1.80,1.75,1.70,1.75,1.80,1.75,
  1.70,1.75,1.80,1.75,1.80,1.85,1.75,1.80,1.75,1.70,
  1.75,1.70,1.65,1.70,1.65,1.60,1.65,1.70,1.65,1.60,
  1.65,1.60,1.65,1.70,1.65,1.70,1.75,1.90,1.75,1.70,1.70];
const TAL_SERT_TM1 = [0.95,0.85,1.00,0.90,1.05,1.15,1.00,1.10,0.95,1.05,
  1.15,1.00,1.10,1.20,1.05,1.15,1.00,1.10,1.05,1.15,
  1.00,1.10,1.05,0.95,1.10,1.00,1.05,0.90,1.00,0.85,
  0.90,0.80,0.95,0.85,0.90,0.80,0.95,0.85,0.90,0.95,
  0.90,1.00,0.95,1.05,1.00,0.95,1.05,1.10,1.15,1.20,
  1.25,1.35,1.30,1.40,1.35,1.30,1.45,1.35,1.40,1.30,
  1.35,1.40,1.30,1.35,1.40,1.30,1.35,1.40,1.35,1.30,
  1.40,1.35,1.30,1.40,1.35,1.45,1.35,1.40,1.30,1.35,
  1.40,1.45,1.35,1.40,1.50,1.40,1.45,1.35,1.45,1.40,
  1.45,1.50,1.40,1.45,1.50,1.40,1.45,1.50,1.40,1.45,1.40];
const TAL_SERT_LOOPS = [1.75,1.85,1.80,1.95,1.90,2.00,1.95,2.05,2.00,1.95,
  2.00,2.05,1.95,2.10,2.00,2.05,1.95,2.00,2.05,2.00,
  1.95,2.05,2.00,1.95,2.05,2.15,2.10,2.00,2.20,2.05,
  2.00,1.95,1.90,2.00,1.85,1.90,1.85,1.90,1.95,1.90,
  1.95,1.90,1.95,2.00,1.95,1.90,2.00,1.95,2.05,1.95,
  2.00,1.95,2.10,1.90,2.05,1.85,1.95,2.00,2.05,2.10,
  2.15,2.20,2.25,2.15,2.20,2.30,2.20,2.25,2.15,2.20,
  2.25,2.20,2.15,2.25,2.50,2.20,2.25,2.55,2.20,2.30,
  2.75,2.25,2.20,2.15,2.20,2.15,2.25,2.20,2.15,2.25,
  2.30,2.35,2.25,2.40,2.35,2.30,2.40,2.35,2.45,2.40,2.30];

const SERIES_COLORS = ['#00B0F0', '#FF0000', '#70AD47', '#7030A0', '#A39BE6', '#0A0AC8'];
const SERIES_WIDTHS = [2.6, 2.0, 2.8, 2.6, 3.0, 2.6];

const PANEL_DATA = [
  [ESC_NET_PROTEIN, ESC_NET_LIGAND, ESC_NET_SITE, ESC_NET_TMD, ESC_NET_TM1, ESC_NET_LOOPS],
  [ESC_SERT_PROTEIN, ESC_SERT_LIGAND, ESC_SERT_SITE, ESC_SERT_TMD, ESC_SERT_TM1, ESC_SERT_LOOPS],
  [L10_NET_PROTEIN, L10_NET_LIGAND, L10_NET_SITE, L10_NET_TMD, L10_NET_TM1, L10_NET_LOOPS],
  [L10_SERT_PROTEIN, L10_SERT_LIGAND, L10_SERT_SITE, L10_SERT_TMD, L10_SERT_TM1, L10_SERT_LOOPS],
  [TAL_NET_PROTEIN, TAL_NET_LIGAND, TAL_NET_SITE, TAL_NET_TMD, TAL_NET_TM1, TAL_NET_LOOPS],
  [TAL_SERT_PROTEIN, TAL_SERT_LIGAND, TAL_SERT_SITE, TAL_SERT_TMD, TAL_SERT_TM1, TAL_SERT_LOOPS]
];

const FONT = 'Lato, "Liberation Sans", sans-serif';
const COL_LEFT = [98, 1058];
const COL_WIDTH = 906;
const ROW_TOP = [37, 258, 478];
const ROW_HEIGHT = 179;

const chart = echarts.init(document.getElementById('chart'), null, { renderer: 'canvas' });

const grids = [], xAxes = [], yAxes = [], titles = [], series = [];
for (let p = 0; p < 6; p++) {
  const col = p % 2, row = Math.floor(p / 2);
  const isBottom = row === 2, isLeft = col === 0;
  grids.push({ left: COL_LEFT[col], top: ROW_TOP[row], width: COL_WIDTH, height: ROW_HEIGHT });
  titles.push({
    text: PANEL_TITLES[p],
    left: COL_LEFT[col] + 2,
    top: ROW_TOP[row] - 27,
    textStyle: { fontFamily: FONT, fontSize: 20, fontWeight: 'normal', color: '#000' }
  });
  xAxes.push({
    gridIndex: p,
    type: 'value',
    min: X_TICKS[0],
    max: X_TICKS[X_TICKS.length - 1],
    interval: 100,
    name: isBottom ? 'MD Simulations Time (ns)' : '',
    nameLocation: 'middle',
    nameGap: 46,
    nameTextStyle: { fontFamily: FONT, fontSize: 28, color: '#000' },
    axisLine: { show: true, onZero: false, lineStyle: { color: '#404040', width: 1.5 } },
    axisTick: { show: true, inside: false, length: 5, lineStyle: { color: '#404040' } },
    axisLabel: { show: isBottom, margin: 12, fontFamily: FONT, fontSize: 20, color: '#000' },
    splitLine: { show: true, lineStyle: { color: '#d4d4d4', width: 1 } }
  });
  yAxes.push({
    gridIndex: p,
    type: 'value',
    min: Y_TICKS[0],
    max: Y_TICKS[Y_TICKS.length - 1],
    interval: 1,
    name: isLeft ? 'RMSD (Å)' : '',
    nameLocation: 'middle',
    nameRotate: 90,
    nameGap: 61,
    nameTextStyle: { fontFamily: FONT, fontSize: 23, color: '#000' },
    axisLine: { show: true, lineStyle: { color: '#595959', width: 1.2 } },
    axisTick: { show: true, inside: false, length: 4, lineStyle: { color: '#595959' } },
    axisLabel: { show: isLeft, margin: 6, fontFamily: FONT, fontSize: 20, color: '#000',
      formatter: (v) => v.toFixed(1) },
    splitLine: { show: true, lineStyle: { color: '#d4d4d4', width: 1 } }
  });
  PANEL_DATA[p].forEach((vals, s) => {
    series.push({
      name: SERIES_NAMES[s],
      type: 'line',
      xAxisIndex: p,
      yAxisIndex: p,
      showSymbol: false,
      symbol: 'none',
      z: 2 + s,
      lineStyle: { color: SERIES_COLORS[s], width: SERIES_WIDTHS[s], join: 'miter' },
      itemStyle: { color: SERIES_COLORS[s] },
      data: TIME_NS.map((t, i) => [t, vals[i]])
    });
  });
}

const legendBase = {
  top: 45,
  orient: 'horizontal',
  align: 'right',
  icon: 'rect',
  itemWidth: 23,
  itemHeight: 5,
  itemGap: 27,
  data: SERIES_NAMES,
  textStyle: { fontFamily: FONT, fontSize: 21, color: '#000', padding: [0, -3, 0, 0] },
  selectedMode: false
};

chart.setOption({
  animation: false,
  backgroundColor: '#fff',
  title: titles,
  legend: [
    Object.assign({}, legendBase, { left: 111 }),
    Object.assign({}, legendBase, { left: 1078 })
  ],
  grid: grids,
  xAxis: xAxes,
  yAxis: yAxes,
  series: series
});

// gridlines in the reference run on through the gap between the two columns
const gapLines = [];
for (let row = 0; row < 3; row++) {
  Y_TICKS.slice(1).forEach((v) => {
    const y = chart.convertToPixel({ yAxisIndex: row * 2 }, v);
    const x0 = chart.convertToPixel({ xAxisIndex: row * 2 }, X_TICKS[X_TICKS.length - 1]);
    const x1 = chart.convertToPixel({ xAxisIndex: row * 2 + 1 }, X_TICKS[0]);
    gapLines.push({
      type: 'line',
      silent: true,
      shape: { x1: x0, y1: y, x2: x1, y2: y },
      style: { stroke: '#d4d4d4', lineWidth: 1 }
    });
  });
}
chart.setOption({ graphic: gapLines });
</script>
</body>
</html>
